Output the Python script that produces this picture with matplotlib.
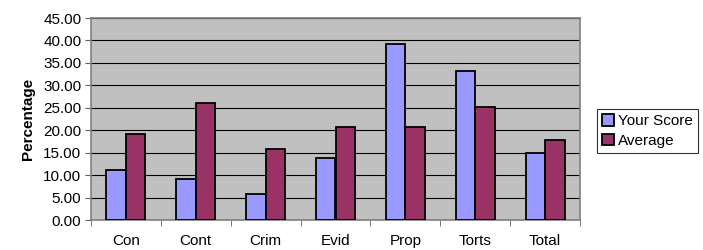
import numpy as np
import matplotlib
matplotlib.use('Agg')
import matplotlib.pyplot as plt
from matplotlib.ticker import FixedLocator, NullFormatter

plt.rcParams['font.family'] = ['Liberation Sans', 'DejaVu Sans']

categories = ['Con', 'Cont', 'Crim', 'Evid', 'Prop', 'Torts', 'Total']
your_score = [11.1, 9.2, 5.8, 13.9, 39.3, 33.3, 14.9]
average = [19.1, 26.1, 15.9, 20.7, 20.7, 25.2, 17.9]

fig = plt.figure(figsize=(7.03, 2.5), dpi=100)
ax = fig.add_axes([91 / 703, 30 / 250, 489 / 703, 202 / 250])
ax.set_facecolor('#C0C0C0')

x = np.arange(len(categories))
w = 0.28
ax.bar(x - w / 2, your_score, w, color='#9999FF', edgecolor='black', linewidth=1.3,
       label='Your Score', zorder=3)
ax.bar(x + w / 2, average, w, color='#993366', edgecolor='black', linewidth=1.3,
       label='Average', zorder=3)

ax.set_xlim(-0.5, len(categories) - 0.5)
ax.set_ylim(0, 45)
ax.set_yticks(np.arange(0, 46, 5))
ax.set_yticklabels(['%.2f' % v for v in np.arange(0, 46, 5)], fontsize=11)
ax.yaxis.grid(True, color='black', linewidth=0.8, zorder=0)

# category labels centered, tick marks between categories
ax.set_xticks(x)
ax.set_xticklabels(categories, fontsize=11)
ax.tick_params(axis='x', which='major', length=0, pad=10)
ax.xaxis.set_minor_locator(FixedLocator(np.arange(-0.5, len(categories), 1)))
ax.xaxis.set_minor_formatter(NullFormatter())
ax.tick_params(axis='x', which='minor', length=4, color='#606060')
ax.tick_params(axis='y', length=4, color='#606060', pad=3)

for side in ['top', 'right', 'left', 'bottom']:
    ax.spines[side].set_color('#808080')
    ax.spines[side].set_linewidth(1.2)

ax.set_ylabel('Percentage', fontsize=11, fontweight='bold', labelpad=6)

leg = ax.legend(loc='center left', bbox_to_anchor=(597 / 703, 119 / 250),
                bbox_transform=fig.transFigure, fontsize=11, frameon=True,
                fancybox=False, edgecolor='black', handlelength=0.75,
                handleheight=0.75, handletextpad=0.25, borderpad=0.35,
                labelspacing=0.35, borderaxespad=0)
leg.get_frame().set_linewidth(0.8)

fig.savefig('out.png', dpi=100)
